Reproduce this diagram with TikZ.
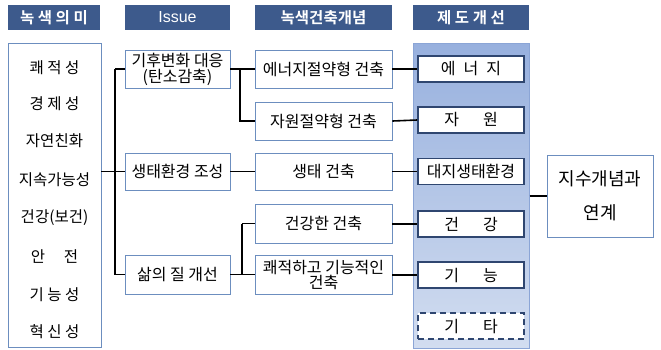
\documentclass[tikz,border=0pt]{standalone}
\usepackage{fontspec}
\setmainfont{Noto Sans CJK KR}
\newfontfamily\krbold{Noto Sans CJK KR Bold}
\newfontfamily\enfont{Liberation Sans}
\usetikzlibrary{positioning}
\definecolor{hdr}{HTML}{3D5A8C}
\definecolor{boxc}{HTML}{6C8EBF}
\definecolor{navy}{HTML}{2F4670}
\definecolor{ptop}{HTML}{97B0DE}
\definecolor{pbot}{HTML}{D2DDF0}
\definecolor{pborder}{HTML}{8BA5D6}
\begin{document}
\begin{tikzpicture}[x=1pt,y=-1pt,
  hdrbox/.style={fill=hdr,draw=none,text=white,inner sep=0pt,minimum height=25pt,font=\krbold\fontsize{15.5}{17}\selectfont},
  whitebox/.style={draw=boxc,line width=0.9pt,fill=white,inner sep=0pt,align=center,font=\fontsize{16}{17}\selectfont},
  inbox/.style={draw=navy,line width=1.6pt,fill=white,inner sep=0pt,minimum width=106pt,minimum height=26pt,font=\fontsize{16}{17}\selectfont},
  lbl/.style={inner sep=0pt,font=\fontsize{15.5}{17}\selectfont},
  conn/.style={line width=1.6pt,black}]
\useasboundingbox (0,0) rectangle (661,349);
% headers
\node[hdrbox,minimum width=92pt] (h1) at (54,17.5) {녹 색 의 미};
\node[hdrbox,minimum width=105pt,font=\enfont\fontsize{16}{17}\selectfont] (h2) at (177.5,17.5) {Issue};
\node[hdrbox,minimum width=137pt] (h3) at (323.5,17.5) {녹색건축개념};
\node[hdrbox,minimum width=116pt] (h4) at (471,17.5) {제 도 개 선};
% left box
\node[whitebox,minimum width=93pt,minimum height=304pt] (L) at (54.5,195) {};
\node[lbl] (l1) at (54.5,68) {쾌 적 성};
\node[lbl] (l2) at (54.5,104) {경 제 성};
\node[lbl] (l3) at (54.5,141) {자연친화};
\node[lbl] (l4) at (54.5,180) {지속가능성};
\node[lbl] (l5) at (54.5,218) {건강(보건)};
\node[lbl] (l6) at (54.5,257) {안\hspace{1.2em}전};
\node[lbl] (l7) at (54.5,295) {기 능 성};
\node[lbl] (l8) at (54.5,332) {혁 신 성};
% issues
\node[whitebox,minimum width=105pt,minimum height=38pt] (I1) at (177.5,69) {기후변화 대응\\[-1pt](탄소감축)};
\node[whitebox,minimum width=105pt,minimum height=37pt] (I2) at (177.5,171.5) {생태환경 조성};
\node[whitebox,minimum width=105pt,minimum height=39pt] (I3) at (177.5,274.5) {삶의 질 개선};
% concepts
\node[whitebox,minimum width=137pt,minimum height=38pt] (C1) at (323.5,69) {에너지절약형 건축};
\node[whitebox,minimum width=137pt,minimum height=38pt] (C2) at (323.5,121) {자원절약형 건축};
\node[whitebox,minimum width=137pt,minimum height=37pt] (C3) at (323.5,171.5) {생태 건축};
\node[whitebox,minimum width=137pt,minimum height=39pt] (C4) at (323.5,223.5) {건강한 건축};
\node[whitebox,minimum width=137pt,minimum height=39pt] (C5) at (323.5,274.5) {쾌적하고 기능적인\\[-2pt]건축};
% panel
\node[draw=pborder,line width=1pt,top color=ptop,bottom color=pbot,minimum width=116pt,minimum height=305pt,inner sep=0pt] (P) at (471,195.5) {};
\node[inbox] (D1) at (471,69) {에\hspace{0.5em}너\hspace{0.5em}지};
\node[inbox] (D2) at (471,120) {자\hspace{1.5em}원};
\node[inbox] (D3) at (471,171.5) {대지생태환경};
\node[inbox] (D4) at (471,224) {건\hspace{1.5em}강};
\node[inbox] (D5) at (471,275) {기\hspace{1.5em}능};
\node[inbox,dashed,dash pattern=on 6pt off 4pt] (D6) at (471,326) {기\hspace{1.5em}타};
% right box
\node[whitebox,minimum width=106pt,minimum height=82pt,font=\fontsize{18}{34}\selectfont] (R) at (600,196) {지수개념과\\연계};
% connectors
\coordinate (busA) at (115,0);
\coordinate (busB) at (240,0);
\coordinate (busC) at (242,0);
\draw[conn] (L.east |- I2.west) -- (I2.west);
\draw[conn] (busA |- I1.west) -- (busA |- I3.west);
\draw[conn] (busA |- I1.west) -- (I1.west);
\draw[conn] (busA |- I3.west) -- (I3.west);
\draw[conn] (I1.east) -- (C1.west);
\draw[conn] (busB |- I1.east) -- (busB |- C2.west) -- (C2.west);
\draw[conn] (I2.east) -- (C3.west);
\draw[conn] (I3.east) -- (C5.west);
\draw[conn] (busC |- C4.west) -- (busC |- C5.west);
\draw[conn] (busC |- C4.west) -- (C4.west);
\draw[conn] (C1.east) -- (D1.west);
\draw[conn] (C2.east) -- (D2.west);
\draw[conn] (C3.east) -- (D3.west);
\draw[conn] (C4.east |- D4.west) -- (D4.west);
\draw[conn] (C5.east |- D5.west) -- (D5.west);
\draw[conn] (P.east |- R.west) -- (R.west);
\end{tikzpicture}
\end{document}
